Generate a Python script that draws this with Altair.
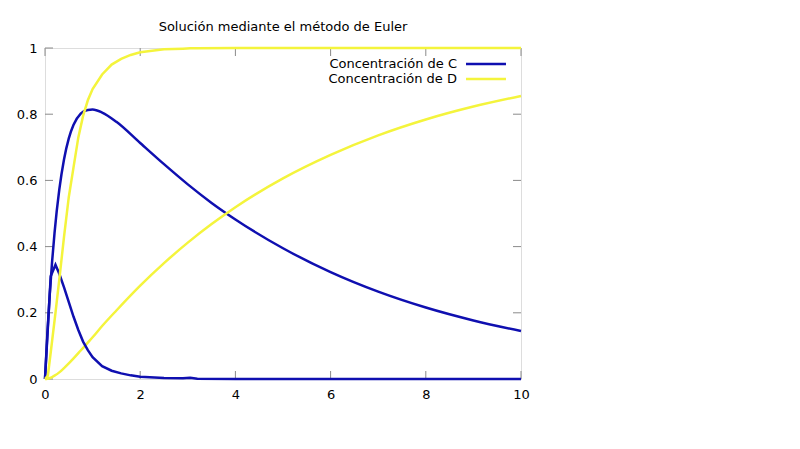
import altair as alt
import pandas as pd

# ---- data ----
t_lento = [0, 0.05, 0.1, 0.15, 0.2, 0.3, 0.4, 0.5, 0.6, 0.75, 0.9, 1.0, 1.2, 1.5,
           2.0, 2.5, 3.0, 3.5, 4.0, 5, 6, 7, 8, 9, 10]
C_lento = [0, 0.138, 0.256, 0.356, 0.441, 0.572, 0.664, 0.727, 0.768, 0.802, 0.813,
           0.814, 0.805, 0.777, 0.713, 0.649, 0.588, 0.532, 0.482, 0.395, 0.323,
           0.264, 0.216, 0.177, 0.145]
D_lento = [0, 0.001, 0.003, 0.006, 0.010, 0.020, 0.033, 0.047, 0.062, 0.086, 0.110,
           0.126, 0.160, 0.207, 0.282, 0.350, 0.412, 0.468, 0.519, 0.606, 0.677,
           0.736, 0.784, 0.823, 0.855]

t_rapido = [0, 0.06, 0.12, 0.22, 0.3, 0.4, 0.5, 0.6, 0.7, 0.8, 0.9, 1.0, 1.2, 1.4,
            1.6, 1.8, 2.0, 2.5, 2.9, 3.05, 3.2, 4, 5, 6, 7, 8, 9, 10]
C_rapido = [0, 0.155, 0.31, 0.345, 0.318, 0.277, 0.232, 0.188, 0.148, 0.113, 0.087,
            0.066, 0.039, 0.025, 0.017, 0.011, 0.007, 0.003, 0.002, 0.004, 0.001,
            0, 0, 0, 0, 0, 0, 0]
D_rapido = [0, 0.01, 0.08, 0.2, 0.3, 0.43, 0.55, 0.64, 0.73, 0.795, 0.842, 0.876,
            0.92, 0.95, 0.967, 0.979, 0.987, 0.996, 0.998, 0.999, 0.999, 1, 1, 1,
            1, 1, 1, 1]

serie_C = "Concentración de C"
serie_D = "Concentración de D"
titulo = "Solución mediante el método de Euler"

x_ticks = [0, 2, 4, 6, 8, 10]
y_ticks = [0, 0.2, 0.4, 0.6, 0.8, 1]

# ---- tables ----
def tabla(ts, cs, ds):
    filas = [{"t": t, "v": v, "serie": serie_C} for t, v in zip(ts, cs)]
    filas += [{"t": t, "v": v, "serie": serie_D} for t, v in zip(ts, ds)]
    return pd.DataFrame(filas)

df_lento = tabla(t_lento, C_lento, D_lento)
df_rapido = tabla(t_rapido, C_rapido, D_rapido)
df_xt = pd.DataFrame({"t": x_ticks})
df_yt = pd.DataFrame({"v": y_ticks})

W, H = 476, 331
FONT = "DejaVu Sans"
FS = 13
GRIS = "#8a8a8a"
AZUL = "#0f0fb0"
AMARILLO = "#f4f43c"

xs = alt.Scale(domain=[0, 10], nice=False, zero=False)
ys = alt.Scale(domain=[0, 1], nice=False)

x_axis = alt.Axis(values=x_ticks, tickSize=0, domain=False, grid=False, title=None,
                  labelFont=FONT, labelFontSize=FS, labelColor="black",
                  labelPadding=9, labelFlush=False)
y_axis = alt.Axis(values=y_ticks, tickSize=0, domain=False, grid=False, title=None,
                  format="~g", labelFont=FONT, labelFontSize=FS, labelColor="black",
                  labelPadding=8)

color = alt.Color(
    "serie:N",
    scale=alt.Scale(domain=[serie_C, serie_D], range=[AZUL, AMARILLO]),
    legend=alt.Legend(title=None, orient="none", legendX=433, legendY=8,
                      symbolType="M-2.963,0H2.963", symbolSize=182,
                      symbolStrokeWidth=2.5, rowPadding=0, labelAlign="right",
                      labelOffset={"expr": "-37"}, labelFont=FONT, labelFontSize=FS,
                      labelColor="black", labelBaseline="middle", padding=0),
)

lento = alt.Chart(df_lento).mark_line(interpolate="monotone", strokeWidth=2.5).encode(
    x=alt.X("t:Q", scale=xs, axis=x_axis),
    y=alt.Y("v:Q", scale=ys, axis=y_axis),
    color=color,
)
rapido = alt.Chart(df_rapido).mark_line(strokeWidth=2.5).encode(
    x=alt.X("t:Q", scale=xs),
    y=alt.Y("v:Q", scale=ys),
    color=alt.Color("serie:N"),
)

tick_b = alt.Chart(df_xt).mark_rule(color=GRIS, strokeWidth=1).encode(
    x=alt.X("t:Q", scale=xs), y=alt.value(H), y2=alt.value(H - 8))
tick_t = alt.Chart(df_xt).mark_rule(color=GRIS, strokeWidth=1).encode(
    x=alt.X("t:Q", scale=xs), y=alt.value(0), y2=alt.value(8))
tick_l = alt.Chart(df_yt).mark_rule(color=GRIS, strokeWidth=1).encode(
    y=alt.Y("v:Q", scale=ys), x=alt.value(0), x2=alt.value(8))
tick_r = alt.Chart(df_yt).mark_rule(color=GRIS, strokeWidth=1).encode(
    y=alt.Y("v:Q", scale=ys), x=alt.value(W), x2=alt.value(W - 8))

chart = alt.layer(tick_b, tick_t, tick_l, tick_r, lento, rapido).properties(
    width=W, height=H,
    title=alt.TitleParams(titulo, font=FONT, fontSize=FS, fontWeight="normal",
                          color="black", anchor="middle", offset=17, dy=19,
                          baseline="alphabetic"),
    autosize=alt.AutoSizeParams(type="none"),
    padding={"left": 37, "top": 40, "right": 40, "bottom": 50},
).configure_view(stroke=GRIS, strokeWidth=1).configure(background="white")

chart.save("out.html", embed_options={"renderer": "svg", "actions": False})
